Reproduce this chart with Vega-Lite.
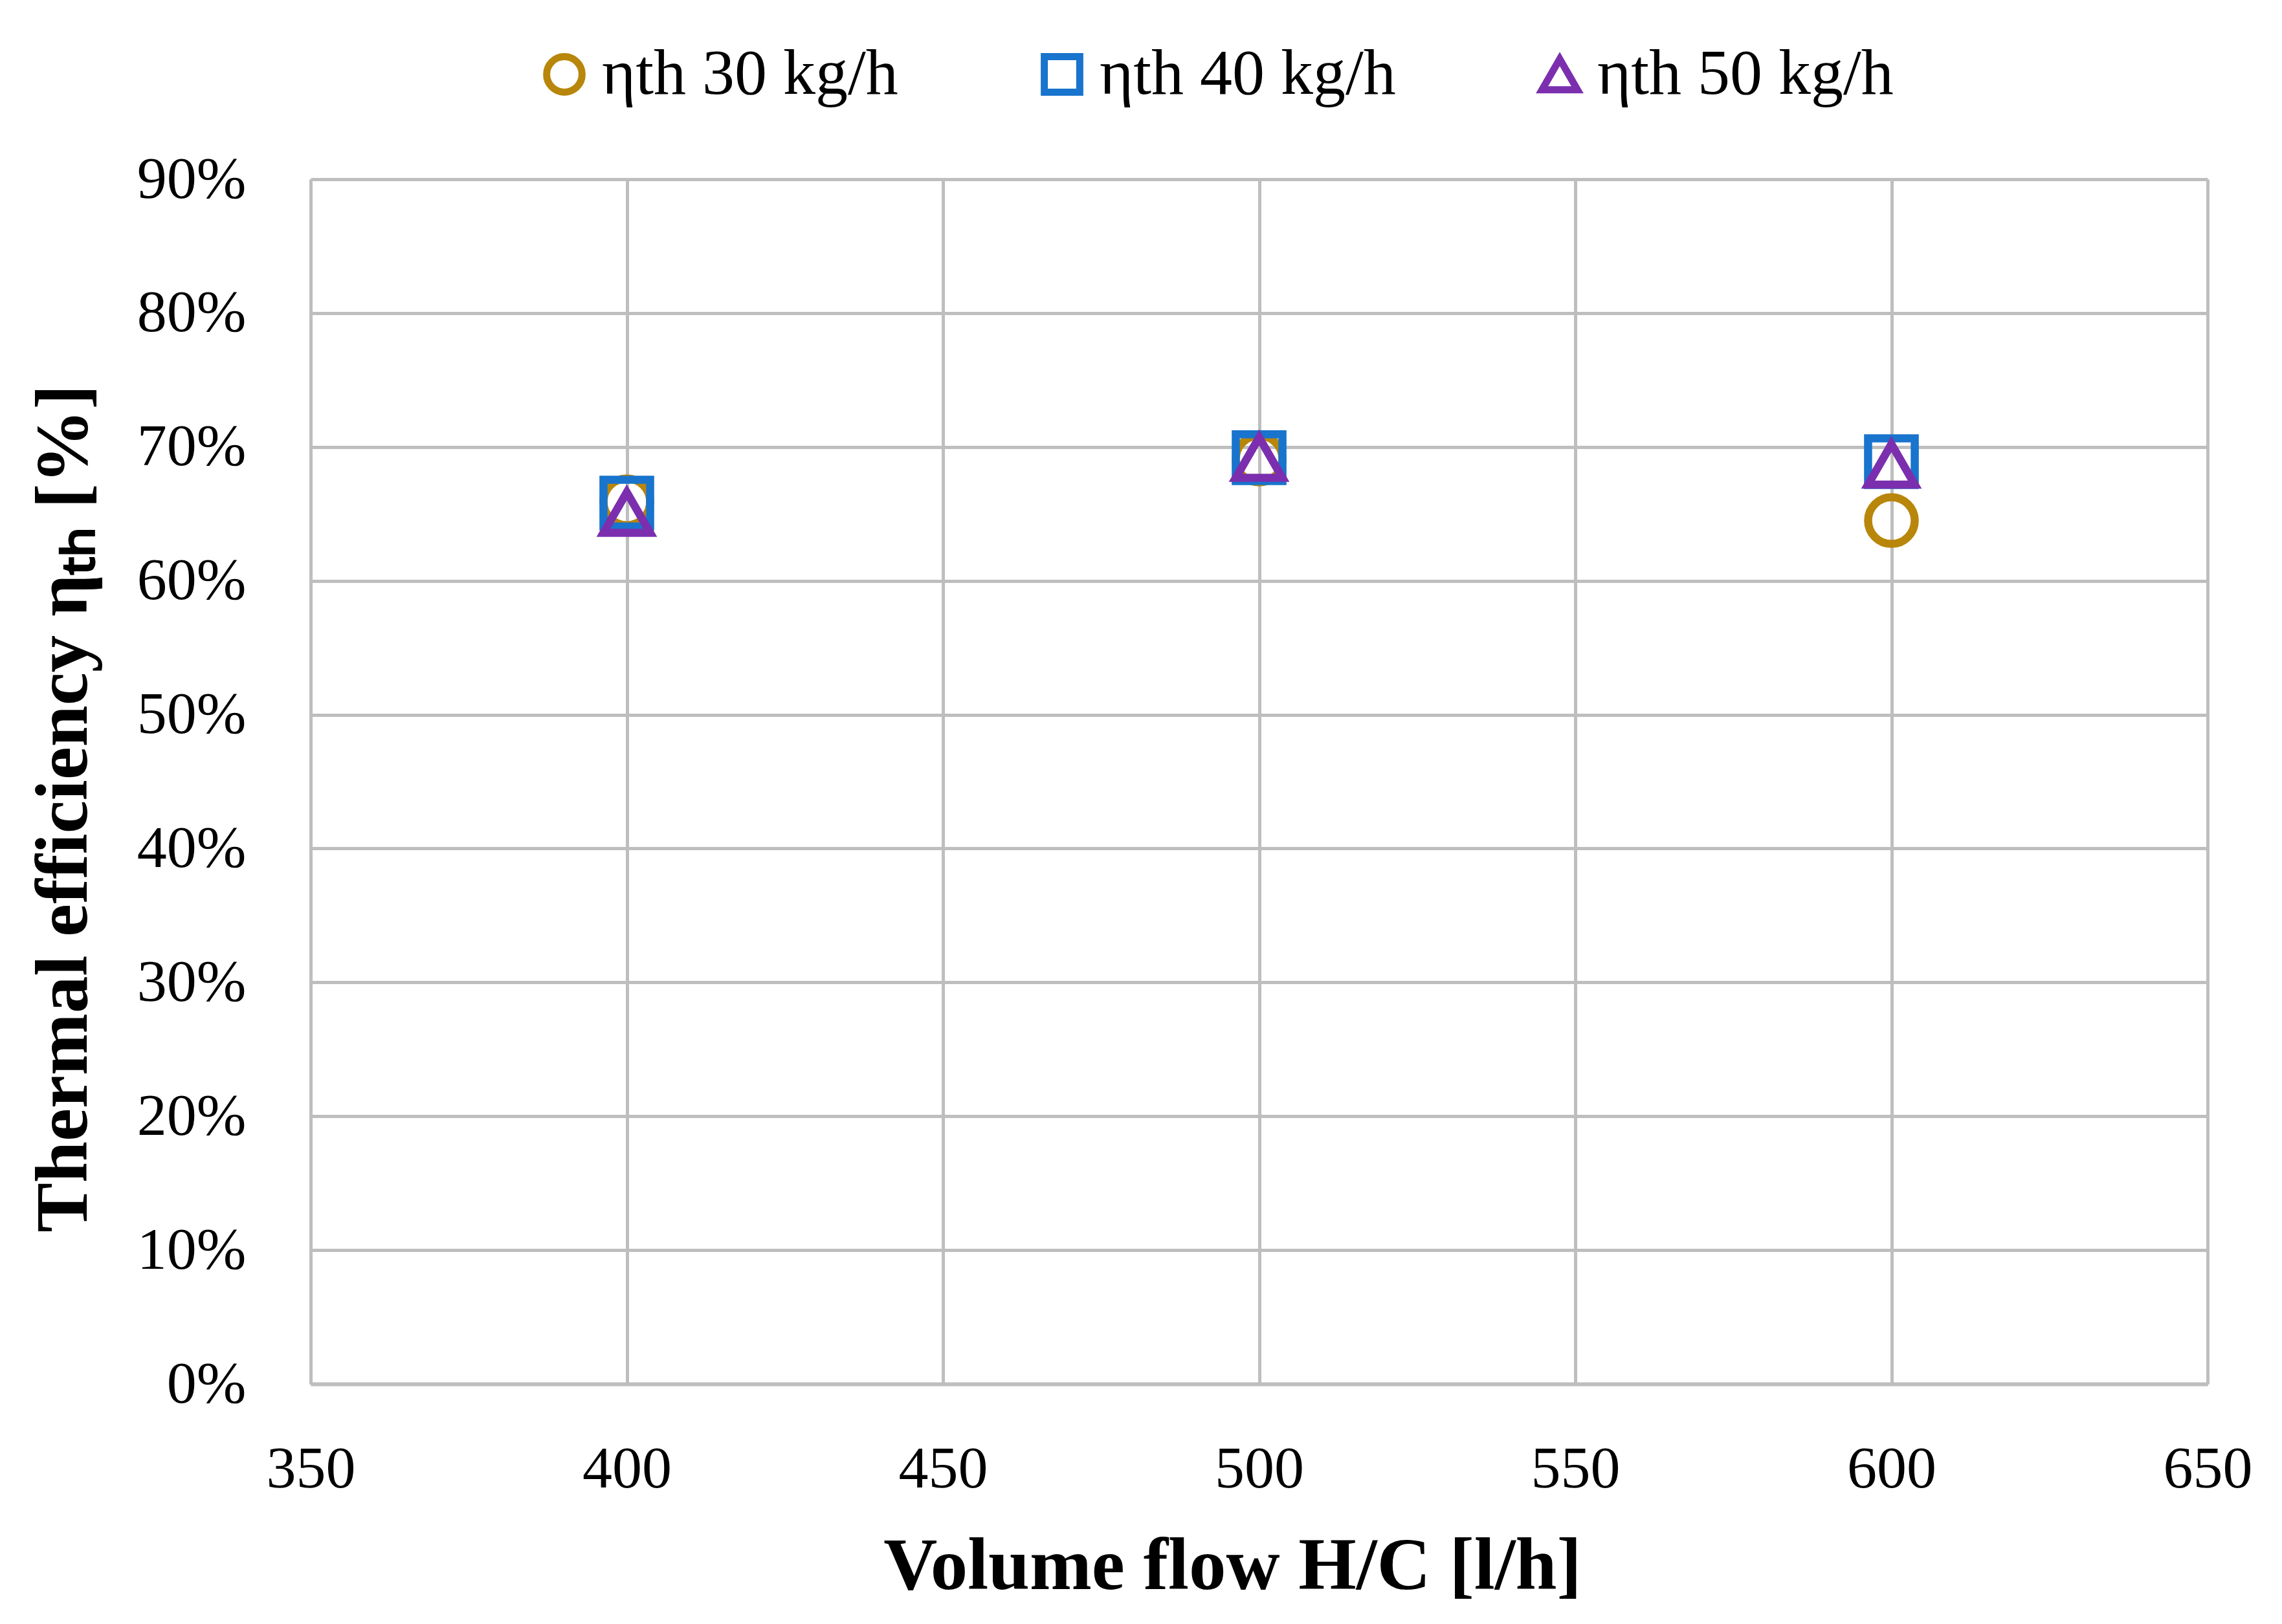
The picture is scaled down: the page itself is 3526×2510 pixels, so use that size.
{
  "$schema": "https://vega.github.io/schema/vega-lite/v6.json",
  "autosize": {"type": "none"},
  "width": 2931,
  "height": 1862,
  "padding": {"left": 480, "top": 277, "right": 115, "bottom": 371},
  "background": "white",
  "config": {
    "view": {"stroke": null},
    "font": "Liberation Serif"
  },
  "data": {
    "values": [
      {"flow": 400, "eff": 0.659, "series": "ηth 30 kg/h"},
      {"flow": 500, "eff": 0.691, "series": "ηth 30 kg/h"},
      {"flow": 600, "eff": 0.645, "series": "ηth 30 kg/h"},
      {"flow": 400, "eff": 0.658, "series": "ηth 40 kg/h"},
      {"flow": 500, "eff": 0.692, "series": "ηth 40 kg/h"},
      {"flow": 600, "eff": 0.689, "series": "ηth 40 kg/h"},
      {"flow": 400, "eff": 0.651, "series": "ηth 50 kg/h"},
      {"flow": 500, "eff": 0.692, "series": "ηth 50 kg/h"},
      {"flow": 600, "eff": 0.687, "series": "ηth 50 kg/h"}
    ]
  },
  "mark": {"type": "point", "filled": false, "strokeWidth": 12.5, "size": 5200, "opacity": 1},
  "encoding": {
    "x": {
      "field": "flow",
      "type": "quantitative",
      "scale": {"domain": [350, 650], "nice": false, "zero": false},
      "axis": {
        "title": "Volume flow H/C [l/h]",
        "values": [350, 400, 450, 500, 550, 600, 650],
        "grid": true,
        "gridColor": "#BEBEBE",
        "gridWidth": 5,
        "domain": true,
        "domainColor": "#BEBEBE",
        "domainWidth": 6,
        "ticks": false,
        "labelFont": "Liberation Serif",
        "labelFontSize": 92,
        "labelColor": "black",
        "labelPadding": 86,
        "labelFlush": false,
        "titleFont": "Liberation Serif",
        "titleFontSize": 115,
        "titleFontWeight": "bold",
        "titleColor": "black",
        "titlePadding": 48,
        "titleX": 1424
      }
    },
    "y": {
      "field": "eff",
      "type": "quantitative",
      "scale": {"domain": [0, 0.9], "nice": false},
      "axis": {
        "title": "Thermal efficiency ηₜₕ [%]",
        "values": [0, 0.1, 0.2, 0.3, 0.4, 0.5, 0.6, 0.7, 0.8, 0.9],
        "format": ".0%",
        "grid": true,
        "gridColor": "#BEBEBE",
        "gridWidth": 5,
        "domain": true,
        "domainColor": "#BEBEBE",
        "domainWidth": 5,
        "ticks": false,
        "labelFont": "Liberation Serif",
        "labelFontSize": 92,
        "labelColor": "black",
        "labelPadding": 100,
        "labelFlush": false,
        "titleFont": "Liberation Serif",
        "titleFontSize": 115,
        "titleFontWeight": "bold",
        "titleColor": "black",
        "titleX": -382,
        "titleY": 972,
        "titleBaseline": "middle",
        "titleAngle": -90
      }
    },
    "color": {
      "field": "series",
      "type": "nominal",
      "scale": {
        "domain": ["ηth 30 kg/h", "ηth 40 kg/h", "ηth 50 kg/h"],
        "range": ["#B8860B", "#1874CD", "#7B2FAE"]
      },
      "legend": {
        "title": null,
        "orient": "none",
        "direction": "horizontal",
        "legendX": 342,
        "legendY": -212,
        "symbolSize": 3000,
        "symbolStrokeWidth": 11,
        "symbolFillColor": "transparent",
        "labelFont": "Liberation Serif",
        "labelFontSize": 100,
        "labelColor": "black",
        "labelOffset": 8,
        "columnPadding": 203,
        "padding": 0,
        "labelLimit": 1000
      }
    },
    "shape": {
      "field": "series",
      "type": "nominal",
      "scale": {
        "domain": ["ηth 30 kg/h", "ηth 40 kg/h", "ηth 50 kg/h"],
        "range": ["circle", "square", "triangle-up"]
      },
      "legend": {
        "title": null,
        "orient": "none",
        "direction": "horizontal",
        "legendX": 342,
        "legendY": -212,
        "symbolSize": 3000,
        "symbolStrokeWidth": 11,
        "symbolFillColor": "transparent",
        "labelFont": "Liberation Serif",
        "labelFontSize": 100,
        "labelColor": "black",
        "labelOffset": 8,
        "columnPadding": 203,
        "padding": 0,
        "labelLimit": 1000
      }
    }
  }
}
